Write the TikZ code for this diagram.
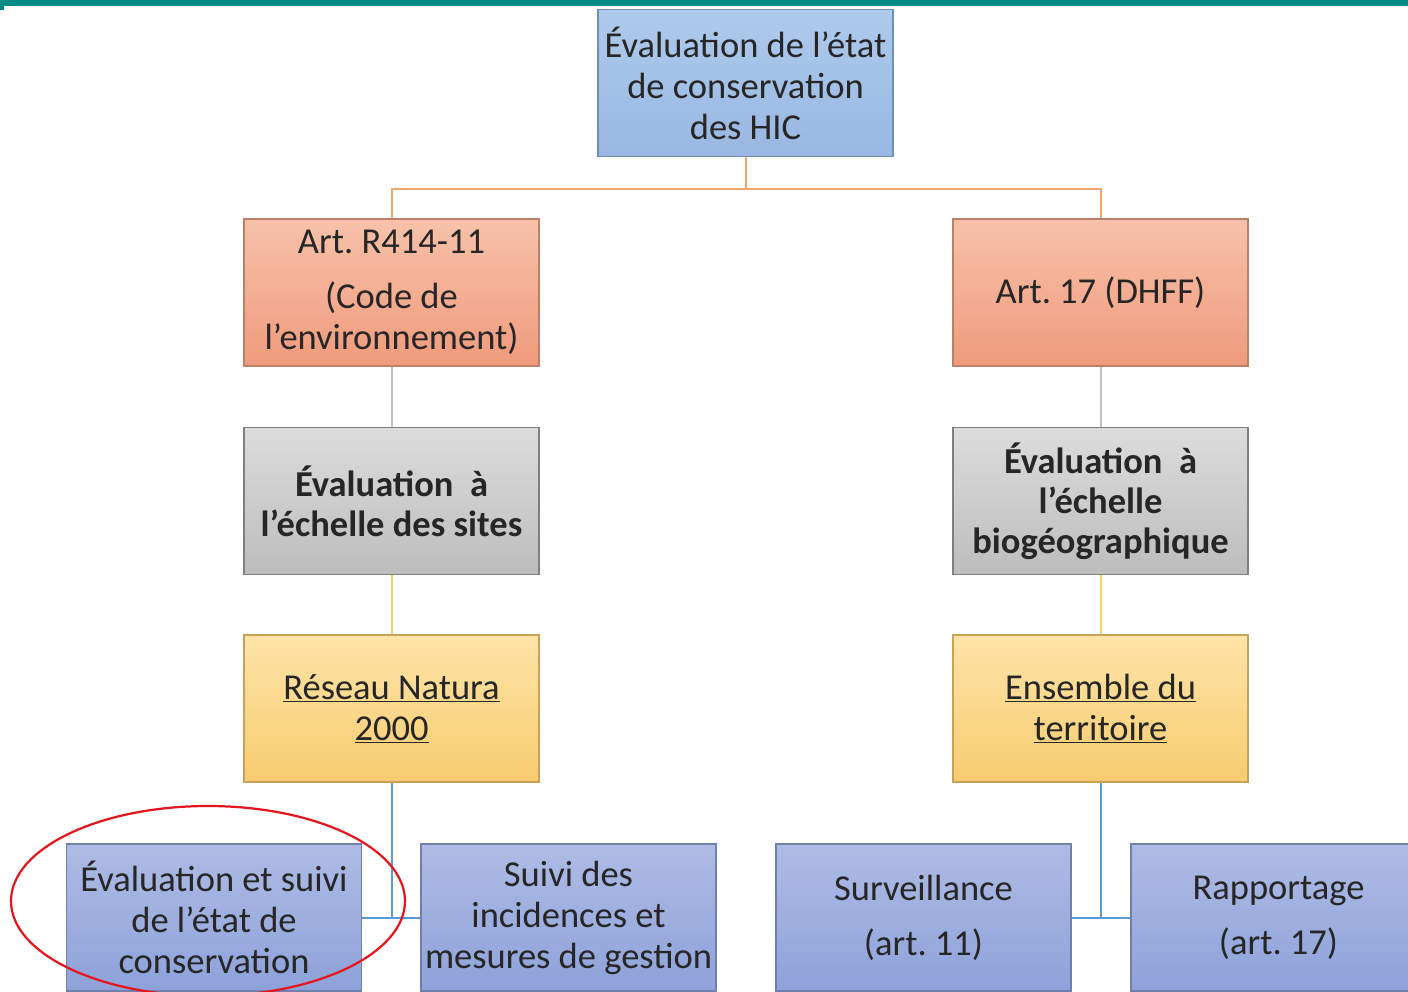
\documentclass[tikz,border=0pt]{standalone}
\usepackage{fontspec}
\setmainfont{Carlito}
\frenchspacing
\definecolor{teal1}{HTML}{008B87}
\definecolor{bluetop}{HTML}{AECAEC}
\definecolor{bluebot}{HTML}{99B7E2}
\definecolor{bluedraw}{HTML}{6F8FB8}
\definecolor{saltop}{HTML}{F7C2AA}
\definecolor{salbot}{HTML}{F09A7C}
\definecolor{saldraw}{HTML}{B9806A}
\definecolor{graytop}{HTML}{DCDCDC}
\definecolor{graybot}{HTML}{BDBDBD}
\definecolor{graydraw}{HTML}{7F7F7F}
\definecolor{yeltop}{HTML}{FDE4A8}
\definecolor{yelbot}{HTML}{F8CC70}
\definecolor{yeldraw}{HTML}{C9A257}
\definecolor{viotop}{HTML}{AEBBE4}
\definecolor{viobot}{HTML}{8EA2DA}
\definecolor{viodraw}{HTML}{6F7FAE}
\definecolor{lorange}{HTML}{F5A46A}
\definecolor{lgray}{HTML}{C0C0C0}
\definecolor{lyellow}{HTML}{F8D060}
\definecolor{lblue}{HTML}{5A9BD5}
\definecolor{ellred}{HTML}{E8141C}
\begin{document}
\begin{tikzpicture}[x=1pt,y=-1pt,
  box/.style={rectangle,minimum width=295pt,minimum height=147pt,inner sep=0pt,
    align=center,line width=1.8pt,text=black!85,
    font=\fontsize{36.5}{41}\selectfont},
  bluebox/.style={box,top color=bluetop,bottom color=bluebot,draw=bluedraw},
  salbox/.style={box,top color=saltop,bottom color=salbot,draw=saldraw},
  graybox/.style={box,top color=graytop,bottom color=graybot,draw=graydraw,font=\fontsize{36.5}{40}\selectfont\bfseries},
  yelbox/.style={box,top color=yeltop,bottom color=yelbot,draw=yeldraw},
  viobox/.style={box,top color=viotop,bottom color=viobot,draw=viodraw},
  conn/.style={line width=2pt}
]
\useasboundingbox (0,0) rectangle (1408,991);
\clip (0,0) rectangle (1408,991);
\fill[white] (0,0) rectangle (1408,991);
\fill[teal1] (0,0) rectangle (1408,6);
\fill[teal1] (0,0) rectangle (4,10);

\node[bluebox] (top) at (745.5,83) {Évaluation de l’état\\de conservation\\des HIC};
\node[salbox] (art1) at (391.5,292.5) {Art. R414-11\\[14pt](Code de\\l’environnement)};
\node[salbox] (art2) at (1100.5,292.5) {Art. 17 (DHFF)};
\node[graybox] (g1) at (391.5,501) {Évaluation\ \ à\\l’échelle des sites};
\node[graybox] (g2) at (1100.5,501) {Évaluation\ \ à\\l’échelle\\biogéographique};
\node[yelbox] (y1) at (391.5,708.5) {\underline{Réseau Natura}\\\underline{2000}};
\node[yelbox] (y2) at (1100.5,708.5) {\underline{Ensemble du}\\\underline{territoire}};
\node[viobox] (b1) at (214,917.5) {Évaluation et suivi\\de l’état de\\conservation};
\node[viobox] (b2) at (568.5,917.5) {Suivi des\\incidences et\\mesures de gestion};
\node[viobox] (b3) at (923.5,917.5) {Surveillance\\[14pt](art. 11)};
\node[viobox] (b4) at (1278.5,917.5) {Rapportage\\[14pt](art. 17)};

\coordinate (jtop) at (745.5,189);
\draw[conn,lorange] (top.south) -- (jtop);
\draw[conn,lorange] (art1.north) |- (jtop) -| (art2.north);
\draw[conn,lgray] (art1) -- (g1);
\draw[conn,lgray] (art2) -- (g2);
\draw[conn,lyellow] (g1) -- (y1);
\draw[conn,lyellow] (g2) -- (y2);
\coordinate (jl) at (391.5,917.5);
\coordinate (jr) at (1100.5,917.5);
\draw[conn,lblue] (y1.south) -- (jl);
\draw[conn,lblue] (b1.east) -- (b2.west);
\draw[conn,lblue] (y2.south) -- (jr);
\draw[conn,lblue] (b3.east) -- (b4.west);

\draw[ellred,line width=2.2pt] (208,901) ellipse [x radius=197, y radius=95];
\end{tikzpicture}
\end{document}
